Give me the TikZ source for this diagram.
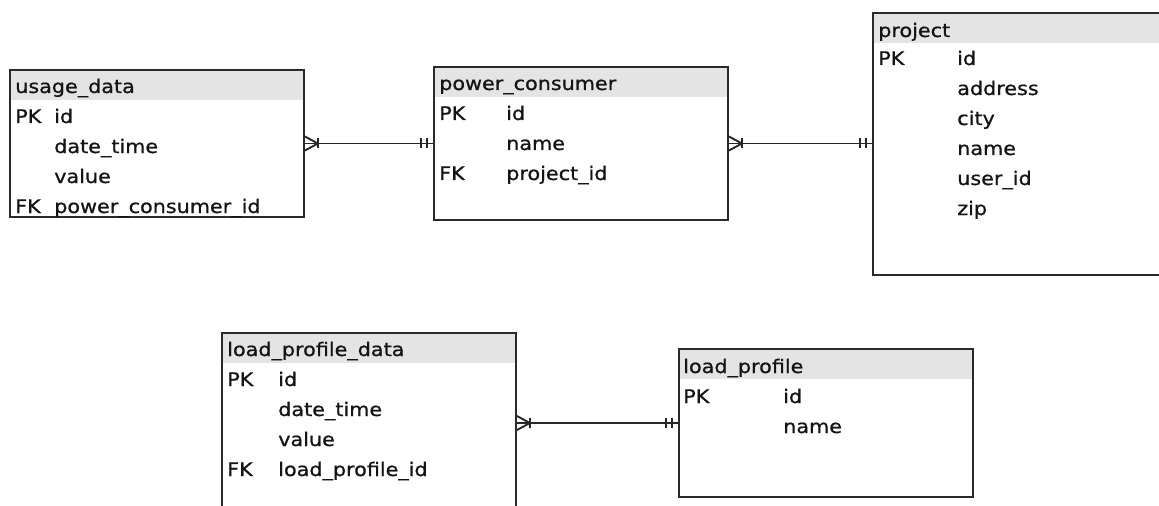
\documentclass[tikz,border=0pt]{standalone}
\usepackage{fontspec}
\setmainfont{DejaVu Sans}[FakeStretch=1.11,FakeBold=0.8,AutoFakeBold=0]
\usetikzlibrary{fit,calc}
\definecolor{hdr}{HTML}{E4E4E4}
\definecolor{edge}{HTML}{2A2A2A}
\tikzset{
  tbl/.style={draw=edge, line width=1.4pt, inner sep=0pt, fill=white,
    path picture={\fill[hdr] (path picture bounding box.north west)
      rectangle ($(path picture bounding box.north east)+(0,30)$);}},
  txt/.style={anchor=base west, inner sep=0pt,
    font=\fontsize{14pt}{16pt}\selectfont, text=black!92},
  rel/.style={draw=black!85, line width=1.4pt},
}
% crow's foot (one or many) at the east side of a table
\newcommand\manyend[1]{%
  \draw[rel] ($(#1)+(0,-7)$) -- ($(#1)+(13,0)$) -- ($(#1)+(0,7)$);
  \draw[rel] ($(#1)+(13,-5)$) -- ($(#1)+(13,5)$);}
% exactly one at the west side of a table
\newcommand\oneend[1]{%
  \draw[rel] ($(#1)+(-12,-5)$) -- ($(#1)+(-12,5)$);
  \draw[rel] ($(#1)+(-6,-5)$) -- ($(#1)+(-6,5)$);}
\begin{document}
\begin{tikzpicture}[x=0.75pt,y=-0.75pt]
\useasboundingbox (0,0) rectangle (1159,506);
\clip (0,0) rectangle (1159,506);
\fill[white] (0,0) rectangle (1159,506);

% tables
\node[tbl, fit={(10,70) (304,217)}] (usage) {};
\node[tbl, fit={(434,67) (728,220)}] (pc) {};
\node[tbl, fit={(873,13) (1175,275)}] (project) {};
\node[tbl, fit={(222,333) (516,513)}] (lpd) {};
\node[tbl, fit={(679,349) (973,497)}] (lp) {};

% usage_data
\node[txt] (usage-h) at (15,93) {usage\_data};
\node[txt] (usage-pk) at (15,123) {PK};
\node[txt] (usage-c1) at (54,123) {id};
\node[txt] (usage-c2) at (54,153) {date\_time};
\node[txt] (usage-c3) at (54,183) {value};
\node[txt] (usage-fk) at (15,213) {FK};
\node[txt] (usage-c4) at (54,213) {power\_consumer\_id};

% power_consumer
\node[txt] (pc-h) at (439,90) {power\_consumer};
\node[txt] (pc-pk) at (439,120) {PK};
\node[txt] (pc-c1) at (506,120) {id};
\node[txt] (pc-c2) at (506,150) {name};
\node[txt] (pc-fk) at (439,180) {FK};
\node[txt] (pc-c3) at (506,180) {project\_id};

% project
\node[txt] (project-h) at (878,37) {project};
\node[txt] (project-pk) at (878,65) {PK};
\node[txt] (project-c1) at (957,65) {id};
\node[txt] (project-c2) at (957,95) {address};
\node[txt] (project-c3) at (957,125) {city};
\node[txt] (project-c4) at (957,155) {name};
\node[txt] (project-c5) at (957,185) {user\_id};
\node[txt] (project-c6) at (957,215) {zip};

% load_profile_data
\node[txt] (lpd-h) at (227,356) {load\_profile\_data};
\node[txt] (lpd-pk) at (227,386) {PK};
\node[txt] (lpd-c1) at (278,386) {id};
\node[txt] (lpd-c2) at (278,416) {date\_time};
\node[txt] (lpd-c3) at (278,446) {value};
\node[txt] (lpd-fk) at (227,476) {FK};
\node[txt] (lpd-c4) at (278,476) {load\_profile\_id};

% load_profile
\node[txt] (lp-h) at (683,373) {load\_profile};
\node[txt] (lp-pk) at (683,403) {PK};
\node[txt] (lp-c1) at (783,403) {id};
\node[txt] (lp-c2) at (783,433) {name};

% relationships
\draw[rel] (usage.east) -- (usage.east -| pc.west);
\manyend{usage.east}
\oneend{usage.east -| pc.west}

\draw[rel] (pc.east) -- (pc.east -| project.west);
\manyend{pc.east}
\oneend{pc.east -| project.west}

\draw[rel] (lpd.east) -- (lpd.east -| lp.west);
\manyend{lpd.east}
\oneend{lpd.east -| lp.west}
\end{tikzpicture}
\end{document}
